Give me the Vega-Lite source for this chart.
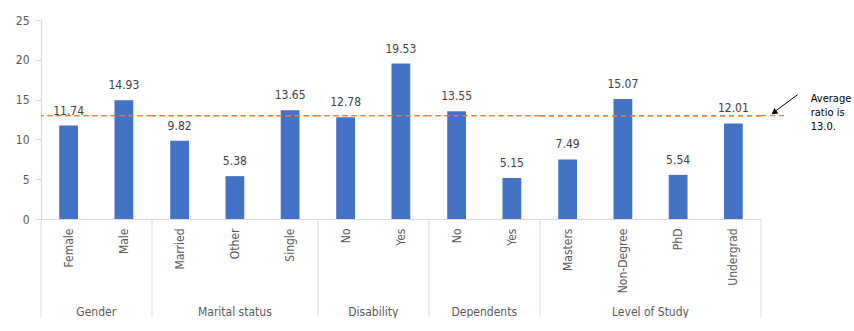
{
  "$schema": "https://vega.github.io/schema/vega-lite/v6.json",
  "padding": {"left": 15, "top": 14, "right": 0, "bottom": 0},
  "autosize": {"type": "pad"},
  "data": {"values": [
    {"group": "Gender", "cat": "Female", "value": 11.74},
    {"group": "Gender", "cat": "Male", "value": 14.93},
    {"group": "Marital status", "cat": "Married", "value": 9.82},
    {"group": "Marital status", "cat": "Other", "value": 5.38},
    {"group": "Marital status", "cat": "Single", "value": 13.65},
    {"group": "Disability", "cat": "No", "value": 12.78},
    {"group": "Disability", "cat": "Yes", "value": 19.53},
    {"group": "Dependents", "cat": "No", "value": 13.55},
    {"group": "Dependents", "cat": "Yes", "value": 5.15},
    {"group": "Level of Study", "cat": "Masters", "value": 7.49},
    {"group": "Level of Study", "cat": "Non-Degree", "value": 15.07},
    {"group": "Level of Study", "cat": "PhD", "value": 5.54},
    {"group": "Level of Study", "cat": "Undergrad", "value": 12.01}
  ]},
  "facet": {"column": {"field": "group", "type": "nominal",
    "sort": ["Gender", "Marital status", "Disability", "Dependents", "Level of Study"],
    "header": {"title": null, "labelOrient": "bottom", "labelFont": "DejaVu Sans Condensed, Roboto", "labelFontSize": 12, "labelColor": "#595959", "labelPadding": 88}}},
  "spacing": 0,
  "align": "none",
  "bounds": "flush",
  "resolve": {"scale": {"x": "independent"}},
  "spec": {
    "width": {"step": 55.25},
    "height": 199,
    "encoding": {
      "y": {"field": "value", "type": "quantitative", "scale": {"domain": [0, 25]},
        "axis": {"title": null, "values": [0, 5, 10, 15, 20, 25], "grid": false, "tickSize": 5, "tickColor": "#D9D9D9", "domainColor": "#D9D9D9", "labelColor": "#595959", "labelFontSize": 12, "labelPadding": 7, "labelFont": "DejaVu Sans Condensed, Roboto"}}
    },
    "layer": [
      {"mark": {"type": "bar", "color": "#4472C4", "width": {"band": 0.34}},
       "encoding": {"x": {"field": "cat", "type": "nominal", "sort": null,
        "scale": {"paddingInner": 0, "paddingOuter": 0, "round": false},
        "axis": {"title": null, "labelAngle": -90, "ticks": false, "domainColor": "#D9D9D9", "labelColor": "#595959", "labelFontSize": 12, "labelPadding": 9, "labelFont": "DejaVu Sans Condensed, Roboto"}}}},
      {"mark": {"type": "text", "baseline": "bottom", "dy": -8, "fontSize": 12, "color": "#404040", "font": "DejaVu Sans Condensed, Roboto"},
       "encoding": {"x": {"field": "cat", "type": "nominal", "sort": null}, "text": {"field": "value", "type": "quantitative", "format": ".2f"}}},
      {"mark": {"type": "rule", "color": "#ED7D31", "strokeDash": [5, 4], "strokeWidth": 1.25},
       "encoding": {"y": {"datum": 13}}},
      {"transform": [{"window": [{"op": "row_number", "as": "rn"}], "groupby": ["group"]}, {"filter": "datum.rn == 1"}],
       "mark": {"type": "rule", "color": "#D9D9D9", "strokeWidth": 1},
       "encoding": {"x": {"field": "cat", "type": "nominal", "sort": null, "bandPosition": 0}, "y": {"datum": 0}, "y2": {"datum": -12.3}}},
      {"transform": [{"filter": "datum.cat == 'Undergrad'"}],
       "mark": {"type": "rule", "color": "#D9D9D9", "strokeWidth": 1},
       "encoding": {"x": {"field": "cat", "type": "nominal", "sort": null, "bandPosition": 1}, "y": {"datum": 0}, "y2": {"datum": -12.3}}},
      {"transform": [{"filter": "datum.cat == 'Undergrad'"}],
       "mark": {"type": "rule", "color": "#ED7D31", "strokeDash": [5, 4], "strokeWidth": 1.25},
       "encoding": {"x": {"field": "cat", "type": "nominal", "sort": null, "bandPosition": 1}, "x2": {"field": "cat", "bandPosition": 1.47}, "y": {"datum": 13}}},
      {"transform": [{"filter": "datum.cat == 'Undergrad'"}],
       "mark": {"type": "rule", "color": "#000000", "strokeWidth": 1},
       "encoding": {"x": {"field": "cat", "type": "nominal", "sort": null, "bandPosition": 1.66}, "x2": {"field": "cat", "bandPosition": 1.27}, "y": {"datum": 15.6}, "y2": {"datum": 13.6}}},
      {"transform": [{"filter": "datum.cat == 'Undergrad'"}],
       "mark": {"type": "point", "shape": "triangle", "filled": true, "color": "#000000", "size": 45, "angle": 233, "opacity": 1},
       "encoding": {"x": {"field": "cat", "type": "nominal", "sort": null, "bandPosition": 1.25}, "y": {"datum": 13.45}}},
      {"transform": [{"filter": "datum.cat == 'Undergrad'"}],
       "mark": {"type": "text", "align": "left", "baseline": "middle", "fontSize": 11, "lineHeight": 14, "color": "#000000", "font": "DejaVu Sans Condensed, Roboto", "text": ["Average", "ratio is", "13.0."]},
       "encoding": {"x": {"field": "cat", "type": "nominal", "sort": null, "bandPosition": 1.9}, "y": {"datum": 15.08}}}
    ]
  },
  "config": {"view": {"stroke": null}, "font": "DejaVu Sans Condensed, Roboto"}
}
